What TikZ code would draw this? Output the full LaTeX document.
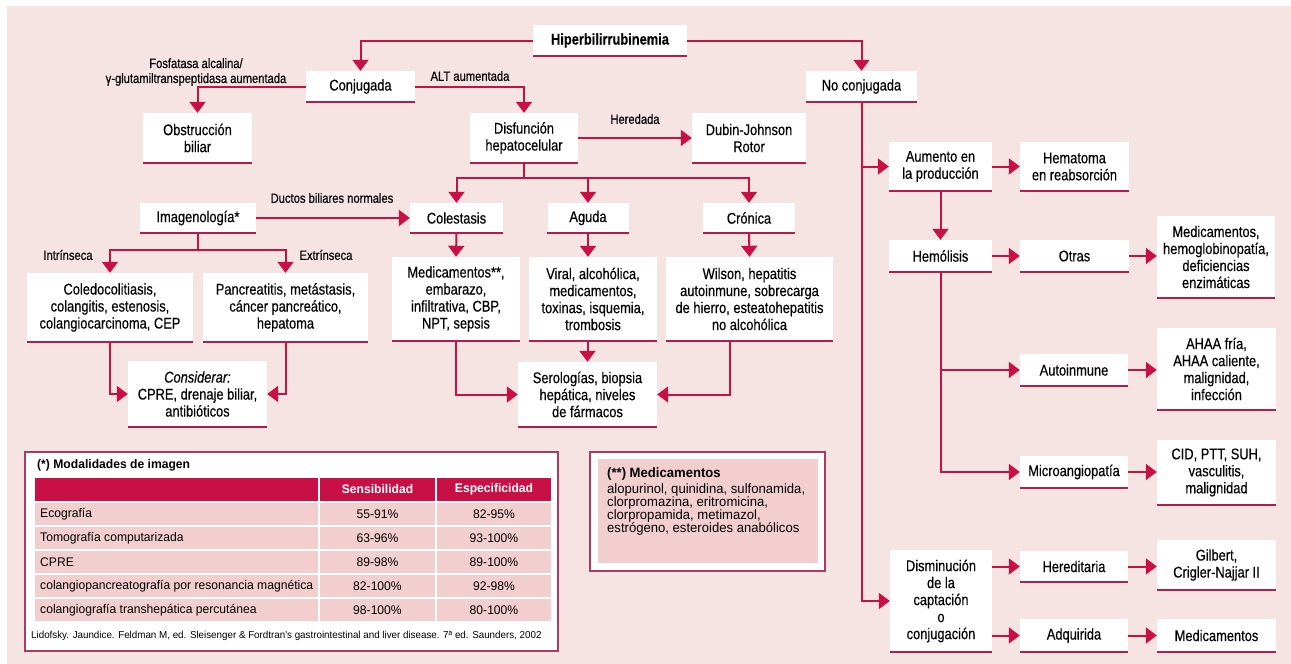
\documentclass[tikz,border=0pt]{standalone}
\usepackage{fontspec}
\setmainfont{Liberation Sans}[FakeStretch=0.83, FakeBold=0.35]
\newfontfamily\anchafont{Liberation Sans}[FakeStretch=0.97]
\usetikzlibrary{positioning, arrows.meta}
\definecolor{fondorosa}{RGB}{245, 228, 226}
\definecolor{carmin}{RGB}{200, 16, 70}
\definecolor{subrayado}{RGB}{180, 28, 75}
\definecolor{filarosa}{RGB}{242, 206, 206}
\definecolor{marco}{RGB}{170, 60, 100}
\tikzset{
  caja/.style={
    fill=white, inner sep=2pt,
    font=\fontsize{15.5}{17}\selectfont,
    align=center,
    append after command={(\tikzlastnode.south west) edge[subraya] (\tikzlastnode.south east)}
  },
  tam/.style 2 args={minimum width=#1pt, minimum height=#2pt},
  subraya/.style={draw=subrayado, line width=1.6pt, -},
  flecha/.style={-{Triangle[width=16pt, length=11pt]}, carmin, line width=2pt},
  linea/.style={carmin, line width=2pt},
  etiq/.style={font=\fontsize{13.5}{15}\selectfont, align=center}
}

\begin{document}
\begin{tikzpicture}[
  x=1pt, y=-1pt,
  tabla/.style={font=\anchafont\fontsize{12.5}{14}\selectfont, inner sep=0pt},
  cabecera/.style={font=\anchafont\fontsize{12.5}{14}\selectfont\bfseries, text=white, inner sep=0pt},
]
\useasboundingbox (0,0) rectangle (1291,664);
\fill[white] (0,0) rectangle (1291,664);
\fill[fondorosa] (7,6) rectangle (1291,664);

% Nivel superior
\node[caja, tam={154}{31}, font=\fontsize{15.5}{17}\selectfont\bfseries] (hiper) at (610,40.5) {Hiperbilirrubinemia};
\node[caja, tam={109}{31}] (conj) at (360.5,86.5) {Conjugada};
\node[caja, tam={111}{31}] (noconj) at (861.5,86.5) {No conjugada};

\draw[flecha] (hiper.west) -| (conj.north);
\draw[flecha] (hiper.east) -| (noconj.north);

% Rama conjugada
\node[caja, tam={109}{50}] (obstr) at (197.5,138) {Obstrucción\\biliar};
\node[caja, tam={108}{50}] (disf) at (524,138) {Disfunción\\hepatocelular};
\node[caja, tam={114}{50}] (dubin) at (749,138) {Dubin-Johnson\\Rotor};

\draw[flecha] (conj.west) -| (obstr.north);
\node[etiq] (lfosf) at (196,72) {Fosfatasa alcalina/\\γ-glutamiltranspeptidasa aumentada};
\draw[flecha] (conj.east) -| (disf.north);
\node[etiq] (lalt) at (470,76) {ALT aumentada};
\draw[flecha] (disf.east) -- (dubin.west);
\node[etiq] (lhered) at (635,119) {Heredada};

\node[caja, tam={116}{30}] (imag) at (198,218) {Imagenología*};
\node[caja, tam={93}{30}] (coles) at (456.5,218) {Colestasis};
\node[caja, tam={81}{30}] (aguda) at (588,218) {Aguda};
\node[caja, tam={92}{30}] (cronica) at (749,218) {Crónica};

\coordinate (rama) at (524,178);
\draw[linea] (disf.south) -- (rama);
\draw[flecha] (rama) -| (coles.north);
\draw[flecha] (rama) -| (aguda.north);
\draw[flecha] (rama) -| (cronica.north);

\draw[flecha] (imag.east) -- (coles.west);
\node[etiq] (lductos) at (332,198) {Ductos biliares normales};

% Imagenologia: intrinseca / extrinseca
\node[caja, tam={166}{69}] (coledo) at (110,307.5) {Coledocolitiasis,\\colangitis, estenosis,\\colangiocarcinoma, CEP};
\node[caja, tam={165}{69}] (pancr) at (285.5,307.5) {Pancreatitis, metástasis,\\cáncer pancreático,\\hepatoma};
\node[caja, tam={139}{66}] (consid) at (197.5,394) {\textit{Considerar:}\\CPRE, drenaje biliar,\\antibióticos};

\coordinate (bifurc) at (198,250);
\draw[linea] (imag.south) -- (bifurc);
\draw[flecha] (bifurc) -| (coledo.north);
\draw[flecha] (bifurc) -| (pancr.north);
\node[etiq] (lintr) at (68,255) {Intrínseca};
\node[etiq] (lextr) at (326,255) {Extrínseca};
\draw[flecha] (coledo.south) |- (consid.west);
\draw[flecha] (pancr.south) |- (consid.east);

% Causas de la disfuncion
\node[caja, tam={128}{84}] (medic) at (456,299) {Medicamentos**,\\embarazo,\\infiltrativa, CBP,\\NPT, sepsis};
\node[caja, tam={128}{84}] (viral) at (593,299) {Viral, alcohólica,\\medicamentos,\\toxinas, isquemia,\\trombosis};
\node[caja, tam={167}{84}] (wilson) at (749.5,299) {Wilson, hepatitis\\autoinmune, sobrecarga\\de hierro, esteatohepatitis\\no alcohólica};
\node[caja, tam={139}{65}] (serol) at (587.5,394.5) {Serologías, biopsia\\hepática, niveles\\de fármacos};

\draw[flecha] (coles.south) -- (medic.north);
\draw[flecha] (aguda.south) -- (aguda.south |- viral.north);
\draw[flecha] (cronica.south) -- (wilson.north);
\draw[flecha] (medic.south) |- (serol.west);
\draw[flecha] (viral.south -| serol.north) -- (serol.north);
\draw[flecha] ([xshift=-19.5pt]wilson.south) |- (serol.east);

% Rama no conjugada
\node[caja, tam={103}{49}] (aumento) at (940.5,166.5) {Aumento en\\la producción};
\node[caja, tam={109}{49}] (hemat) at (1074.5,166.5) {Hematoma\\en reabsorción};
\node[caja, tam={103}{32}] (hemol) at (940.5,256) {Hemólisis};
\node[caja, tam={109}{32}] (otras) at (1074.5,256) {Otras};
\node[caja, tam={118}{82}] (medhemo) at (1216,257) {Medicamentos,\\hemoglobinopatía,\\deficiencias\\enzimáticas};
\node[caja, tam={108}{32}] (autoin) at (1074,370) {Autoinmune};
\node[caja, tam={119}{82}] (ahaa) at (1216.5,369) {AHAA fría,\\AHAA caliente,\\malignidad,\\infección};
\node[caja, tam={108}{32}] (micro) at (1074,472) {Microangiopatía};
\node[caja, tam={119}{65}] (cid) at (1216.5,472.5) {CID, PTT, SUH,\\vasculitis,\\malignidad};
\node[caja, tam={102}{102}] (dismin) at (941,601) {Disminución\\de la\\captación\\o\\conjugación};
\node[caja, tam={108}{31}] (hered) at (1074,566.5) {Hereditaria};
\node[caja, tam={119}{50}] (gilbert) at (1216.5,565) {Gilbert,\\Crigler-Najjar II};
\node[caja, tam={108}{33}] (adquir) at (1074,635.5) {Adquirida};
\node[caja, tam={119}{33}] (medfin) at (1216.5,635.5) {Medicamentos};

\draw[flecha] (noconj.south) |- (dismin.west);
\draw[flecha] (noconj.south |- aumento.west) -- (aumento.west);
\draw[flecha] (aumento.east) -- (hemat.west);
\draw[flecha] (aumento.south) -- (hemol.north);
\draw[flecha] (hemol.east) -- (otras.west);
\draw[flecha] (otras.east) -- (otras.east -| medhemo.west);
\draw[flecha] (hemol.south) |- (micro.west);
\draw[flecha] (hemol.south |- autoin.west) -- (autoin.west);
\draw[flecha] (autoin.east) -- (autoin.east -| ahaa.west);
\draw[flecha] (micro.east) -- (micro.east -| cid.west);
\draw[flecha] (dismin.east |- hered.west) -- (hered.west);
\draw[flecha] (dismin.east |- adquir.west) -- (adquir.west);
\draw[flecha] (hered.east) -- (hered.east -| gilbert.west);
\draw[flecha] (adquir.east) -- (medfin.west);

% Tabla de modalidades de imagen
\draw[marco, line width=1.5pt, fill=white] (25,452) rectangle (558,651);
\node[tabla, anchor=west, font=\anchafont\fontsize{12.5}{14}\selectfont\bfseries] (tabtit) at (37,465) {(*) Modalidades de imagen};
\fill[carmin] (35,478) rectangle (318,501);
\fill[carmin] (320,478) rectangle (435,501);
\fill[carmin] (437,478) rectangle (551,501);
\node[cabecera] (hsens) at (377.5,489.5) {Sensibilidad};
\node[cabecera] (hesp) at (494,489.5) {Especificidad};
\foreach \nombre/\sens/\espec [count=\i from 0] in {
  Ecografía/55-91\%/82-95\%,
  Tomografía computarizada/63-96\%/93-100\%,
  CPRE/89-98\%/89-100\%,
  colangiopancreatografía por resonancia magnética/82-100\%/92-98\%,
  colangiografía transhepática percutánea/98-100\%/80-100\%}{
  \pgfmathsetmacro{\ya}{503+24*\i}
  \fill[filarosa] (35,\ya) rectangle (318,\ya+22);
  \fill[filarosa] (320,\ya) rectangle (435,\ya+22);
  \fill[filarosa] (437,\ya) rectangle (551,\ya+22);
  \node[tabla, anchor=west] (fila\i) at (40,\ya+11) {\nombre};
  \node[tabla] (sens\i) at (377.5,\ya+11) {\sens};
  \node[tabla] (esp\i) at (494,\ya+11) {\espec};
}
\node[tabla, anchor=west, font=\anchafont\fontsize{10.1}{12}\selectfont] (cita) at (31,636) {Lidofsky. Jaundice. Feldman M, ed. Sleisenger \& Fordtran's gastrointestinal and liver disease. 7ª ed. Saunders, 2002};

% Recuadro de medicamentos
\draw[marco, line width=1.5pt, fill=white] (590,452) rectangle (825,571);
\fill[filarosa] (598,459) rectangle (818,563);
\node[tabla, anchor=west, font=\anchafont\fontsize{13.5}{14}\selectfont\bfseries] (medtit) at (607,474) {(**) Medicamentos};
\node[tabla, anchor=north west, align=left, font=\anchafont\fontsize{13.5}{13}\selectfont] (medlista) at (607,484) {alopurinol, quinidina, sulfonamida,\\clorpromazina, eritromicina,\\clorpropamida, metimazol,\\estrógeno, esteroides anabólicos};

\end{tikzpicture}
\end{document}
